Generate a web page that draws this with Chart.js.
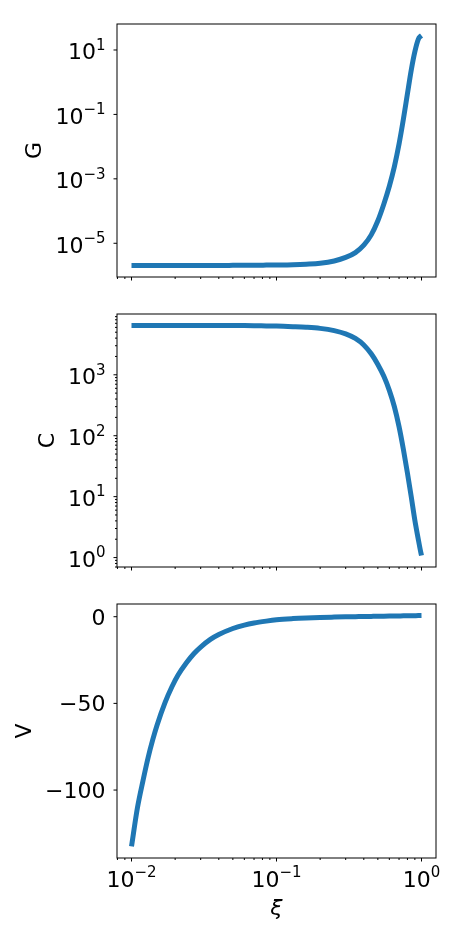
<!DOCTYPE html>
<html>
<head>
<meta charset="utf-8">
<script src="https://cdn.jsdelivr.net/npm/chart.js@4"></script>
<style>
  body { margin: 0; background: #fff; }
  canvas { position: absolute; left: 0; }
</style>
</head>
<body>
<canvas id="chartG" width="449" height="300" style="top:0px"></canvas>
<canvas id="chartC" width="449" height="290" style="top:300px"></canvas>
<canvas id="chartV" width="449" height="335" style="top:590px"></canvas>
<script>
// xi grid shared by all three panels
const xi = [0.01, 0.011, 0.012, 0.013, 0.014, 0.015, 0.017, 0.019, 0.021, 0.024, 0.027, 0.03, 0.035, 0.04,
  0.05, 0.06, 0.07, 0.085, 0.1, 0.13, 0.16, 0.2, 0.25, 0.3, 0.35, 0.4, 0.45, 0.5, 0.55, 0.6, 0.65, 0.7,
  0.75, 0.8, 0.85, 0.9, 0.95, 0.98, 1.0];

const gValues = [2.04e-6, 2.04e-6, 2.04e-6, 2.04e-6, 2.04e-6, 2.04e-6, 2.04e-6, 2.04e-6, 2.04e-6, 2.04e-6,
  2.04e-6, 2.05e-6, 2.05e-6, 2.05e-6, 2.06e-6, 2.07e-6, 2.08e-6, 2.1e-6, 2.12e-6, 2.17e-6, 2.25e-6,
  2.4e-6, 2.82e-6, 3.63e-6, 5.13e-6, 8.7e-6, 1.82e-5, 5.0e-5, 1.66e-4, 5.9e-4, 2.4e-3, 1.2e-2, 7.1e-2,
  0.44, 2.4, 8.9, 21.4, 26.3, 28.2];

const cValues = [6450, 6450, 6450, 6450, 6450, 6450, 6450, 6450, 6450, 6450, 6450, 6450, 6450, 6450, 6450,
  6430, 6400, 6350, 6310, 6170, 6030, 5780, 5310, 4700, 3950, 3090, 2210, 1480, 944, 556, 299, 141,
  59.6, 24.3, 9.9, 4.07, 2.0, 1.35, 1.08];

const vValues = [-132.5, -110, -94.6, -81.5, -71.1, -62.6, -49.7, -40.4, -33.5, -26.4, -21.2, -17.5, -13.1,
  -10.3, -6.8, -4.85, -3.65, -2.55, -1.8, -1.1, -0.72, -0.42, -0.22, -0.08, 0.02, 0.1, 0.18, 0.25, 0.3,
  0.35, 0.4, 0.45, 0.5, 0.53, 0.57, 0.6, 0.63, 0.66, 0.67];

// tick positions
const xMajorTicks = [0.01, 0.1, 1];
const xMinorTicks = [0.008, 0.009, 0.02, 0.03, 0.04, 0.05, 0.06, 0.07, 0.08, 0.09,
  0.2, 0.3, 0.4, 0.5, 0.6, 0.7, 0.8, 0.9];
const gMajorTicks = [1e-5, 1e-3, 1e-1, 1e1];
const cMajorTicks = [1, 10, 100, 1000];
const cMinorTicks = [0.7, 0.8, 0.9, 2, 3, 4, 5, 6, 7, 8, 9, 20, 30, 40, 50, 60, 70, 80, 90,
  200, 300, 400, 500, 600, 700, 800, 900, 2000, 3000, 4000, 5000, 6000, 7000, 8000, 9000];
const vMajorTicks = [0, -50, -100];

const FONT = "'DejaVu Sans', sans-serif";
const LINE_COLOR = "#1f77b4";

function expText(v) {
  const e = Math.round(Math.log10(v));
  return e < 0 ? "\u2212" + (-e) : String(e);
}

function linText(v) {
  return v < 0 ? "\u2212" + (-v) : String(v);
}

function drawLabel(ctx, base, exp, x, y, align) {
  ctx.font = "22px " + FONT;
  const w1 = ctx.measureText(base).width;
  let w2 = 0;
  if (exp !== null) {
    ctx.font = "15px " + FONT;
    w2 = ctx.measureText(exp).width;
  }
  const w = w1 + w2;
  const left = align === "right" ? x - w : x - w / 2;
  ctx.textAlign = "left";
  ctx.textBaseline = "alphabetic";
  ctx.fillStyle = "#000";
  ctx.font = "22px " + FONT;
  ctx.fillText(base, left, y);
  if (exp !== null) {
    ctx.font = "15px " + FONT;
    ctx.fillText(exp, left + w1, y - 9.5);
  }
}

function framePlugin(cfg) {
  return {
    id: "frame",
    afterDraw(chart) {
      const ctx = chart.ctx;
      const a = chart.chartArea;
      const xs = chart.scales.x;
      const ys = chart.scales.y;
      ctx.save();
      ctx.strokeStyle = "#000";
      ctx.lineWidth = 1;

      ctx.beginPath();
      xMajorTicks.forEach(v => {
        const p = xs.getPixelForValue(v);
        ctx.moveTo(p, a.bottom); ctx.lineTo(p, a.bottom + 3.5);
      });
      xMinorTicks.forEach(v => {
        const p = xs.getPixelForValue(v);
        ctx.moveTo(p, a.bottom); ctx.lineTo(p, a.bottom + 2);
      });
      cfg.yMajor.forEach(v => {
        const p = ys.getPixelForValue(v);
        ctx.moveTo(a.left - 3.5, p); ctx.lineTo(a.left, p);
      });
      (cfg.yMinor || []).forEach(v => {
        const p = ys.getPixelForValue(v);
        ctx.moveTo(a.left - 2, p); ctx.lineTo(a.left, p);
      });
      ctx.stroke();
      ctx.strokeRect(a.left, a.top, a.right - a.left, a.bottom - a.top);

      cfg.yMajor.forEach(v => {
        const p = ys.getPixelForValue(v);
        if (cfg.yLog) drawLabel(ctx, "10", expText(v), a.left - 11.5, p + 9.3, "right");
        else drawLabel(ctx, linText(v), null, a.left - 11.5, p + 8, "right");
      });
      if (cfg.xLabels) {
        xMajorTicks.forEach(v => {
          drawLabel(ctx, "10", expText(v), xs.getPixelForValue(v), a.bottom + 28.7, "center");
        });
      }
      ctx.restore();
    }
  };
}

function makePanel(id, values, yOpts, p) {
  return new Chart(document.getElementById(id), {
    type: "line",
    data: {
      datasets: [{
        data: xi.map((x, i) => ({ x: x, y: values[i] })),
        borderColor: LINE_COLOR,
        borderWidth: 5,
        pointRadius: 0,
        cubicInterpolationMode: "monotone",
        fill: false
      }]
    },
    options: {
      responsive: false,
      animation: false,
      layout: { padding: { top: p.top, right: 13, left: 0, bottom: 0 } },
      plugins: { legend: { display: false }, tooltip: { enabled: false } },
      scales: {
        x: {
          type: "logarithmic",
          min: 0.007943,
          max: 1.2589,
          ticks: { display: false },
          grid: { display: false },
          border: { display: false },
          title: p.xTitle ? {
            display: true, text: "\u03be", color: "#000",
            font: { family: FONT, size: 22, style: "italic" },
            padding: { top: 0, bottom: 3 }
          } : { display: false },
          afterFit: s => { s.height = p.xHeight; }
        },
        y: Object.assign({
          ticks: { display: false },
          grid: { display: false },
          border: { display: false },
          title: {
            display: true, text: p.yTitle, color: "#000",
            font: { family: FONT, size: 22 },
            padding: { top: p.titlePad, bottom: 0 }
          },
          afterFit: s => { s.width = 117; }
        }, yOpts)
      }
    },
    plugins: [framePlugin(p.frame)]
  });
}

makePanel("chartG", gValues, { type: "logarithmic", min: 8.97e-7, max: 64.1 }, {
  top: 24, xHeight: 23, yTitle: "G", titlePad: 22,
  frame: { yMajor: gMajorTicks, yLog: true }
});

makePanel("chartC", cValues, { type: "logarithmic", min: 0.70, max: 9950 }, {
  top: 14, xHeight: 23, yTitle: "C", titlePad: 35,
  frame: { yMajor: cMajorTicks, yMinor: cMinorTicks, yLog: true }
});

makePanel("chartV", vValues, { type: "linear", min: -139.2, max: 7.33 }, {
  top: 14, xHeight: 67, yTitle: "V", titlePad: 12, xTitle: true,
  frame: { yMajor: vMajorTicks, yLog: false, xLabels: true }
});
</script>
</body>
</html>
